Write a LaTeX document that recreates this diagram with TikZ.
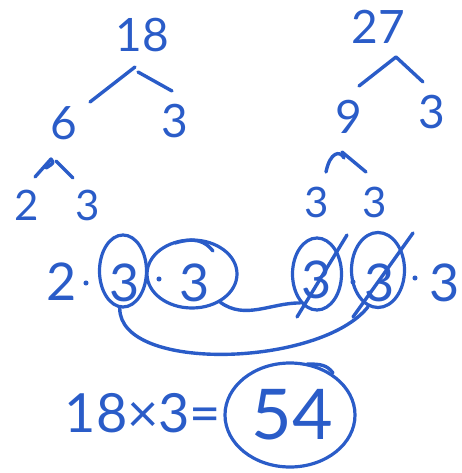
\documentclass[tikz,border=0pt]{standalone}
\usepackage{fontspec}
\setmainfont{Lato}
\usetikzlibrary{calc,shapes.geometric}
\definecolor{pen}{RGB}{42,92,200}
\tikzset{
  ink/.style={draw=pen,line width=3.4pt,line cap=round,line join=round},
  num/.style={text=pen,font=\fontsize{46}{46}\selectfont,inner sep=0pt},
  kisnum/.style={text=pen,font=\fontsize{42}{42}\selectfont,inner sep=0pt},
  nagynum/.style={text=pen,font=\fontsize{52}{52}\selectfont,inner sep=0pt},
  pont/.style={circle,fill=pen,inner sep=1.8pt},
  gyuru/.style={ellipse,draw=pen,line width=3.2pt,inner sep=0pt},
}

\begin{document}
\begin{tikzpicture}[x=1pt,y=-1pt]
  \useasboundingbox (0,0) rectangle (462,473);
  % 18 tree
  \node[num] (n18) at (142,35) {18};
  \node[num] (n6) at (64,123) {6}; \node[num] (n3a) at (175,121) {3};
  \node[kisnum] (n2) at (27,205) {2}; \node[kisnum] (n3b) at (88,205) {3};
  \coordinate (a18) at (135,67); \coordinate (l18) at (90,102);
  \coordinate (b18) at (138,72); \coordinate (r18) at (172,91);
  \draw[ink] (l18) -- (a18); \draw[ink] (b18) -- (r18);
  \draw[ink] (35,177) -- (51,159) .. controls (54,163) .. (46,168);
  \draw[ink] (56,161) -- (73,178);
  % 27 tree
  \node[num] (n27) at (378,27) {27};
  \node[num] (n9) at (349,117) {9}; \node[num] (n3c) at (432,112) {3};
  \node[kisnum] (n3d) at (317,202) {3}; \node[kisnum] (n3e) at (375,202) {3};
  \coordinate (a27) at (396,57); \coordinate (l27) at (359,86); \coordinate (r27) at (423,82);
  \draw[ink] (l27) -- (a27) -- (r27);
  \draw[ink] (326,172) .. controls (330,152) and (340,150) .. (344,158);
  \draw[ink] (342,152) -- (366,172);
  % product row
  \node[nagynum] (f2) at (62,282) {2}; \node[pont] (d1) at (86,283) {};
  \node[nagynum] (f3a) at (125,283) {3};
  \node[pont] (d2) at (159,279) {}; \node[nagynum] (f3b) at (195,283) {3};
  \node[nagynum] (f3c) at (317,280) {3}; \node[pont] (d3) at (353,282) {};
  \node[nagynum] (f3d) at (380,283) {3};
  \node[pont] (d4) at (415,278) {}; \node[nagynum] (f3e) at (445,283) {3};
  \node[gyuru,minimum width=47,minimum height=72] (o1) at (123,271) {};
  \node[gyuru,minimum width=90,minimum height=68] (o2) at (192,274) {};
  \node[gyuru,minimum width=49,minimum height=72] (o3) at (317,274) {};
  \node[gyuru,minimum width=53,minimum height=75] (o4) at (378,270) {};
  \draw[ink] ($(o2)+(-17,-31)$) .. controls +(20,-6) and +(-8,-10) .. ($(o2)+(21,-23)$);
  \draw[ink] ($(o3)+(30,-39)$) -- ($(o3)+(-20,43)$);
  \draw[ink] ($(o4)+(35,-37)$) -- ($(o4)+(-25,47)$);
  \draw[ink] (o2.315) .. controls +(25,18) and +(-30,0) .. (o3.240);
  \draw[ink] (o1.265) .. controls +(0,65) and +(-47,60) .. (o4.255);
  % result
  \node[text=pen,font=\fontsize{54}{54}\selectfont,inner sep=0pt] (eq) at (143,413) {18×3=};
  \node[text=pen,font=\fontsize{70}{70}\selectfont,inner sep=0pt] (n54) at (292,415) {54};
  \node[gyuru,minimum width=130,minimum height=104] (o54) at (290,415) {};
  \draw[ink] ($(o54)+(17,-51)$) .. controls +(14,0) and +(-6,-8) .. ($(o54)+(43,-42)$);
\end{tikzpicture}
\end{document}
